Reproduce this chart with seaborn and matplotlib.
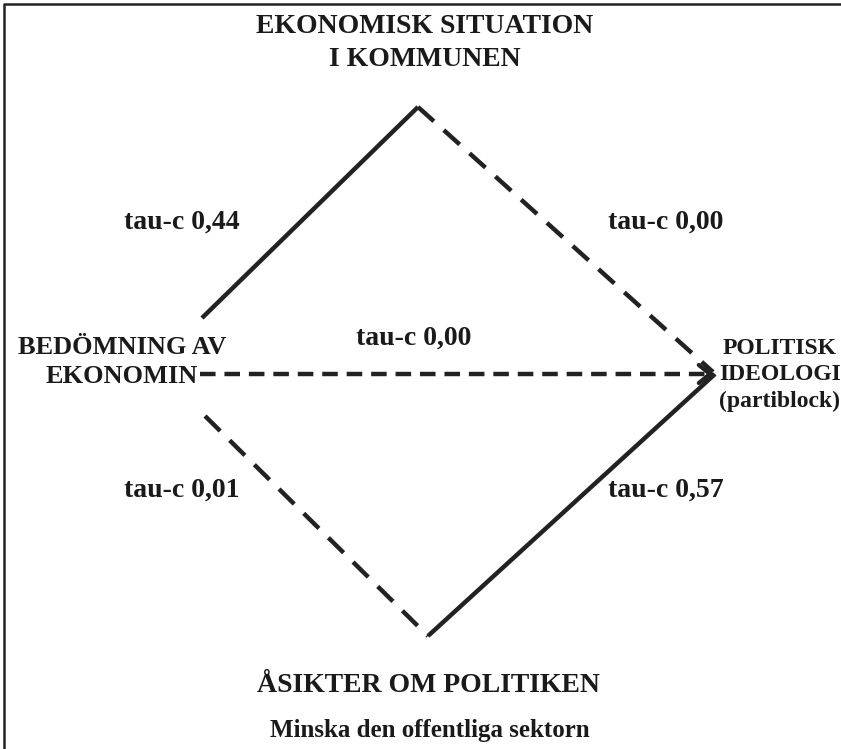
import matplotlib
matplotlib.use('Agg')
import matplotlib.pyplot as plt
import seaborn as sns
import pandas as pd

sns.set_style("white")
plt.rcParams['font.family'] = ['Liberation Serif', 'DejaVu Serif']

# Nodes of the diagram (label, x, y in pixel space, font size)
node_labels = ['EKONOMISK SITUATION\nI KOMMUNEN', 'BEDÖMNING AV\nEKONOMIN',
               'POLITISK\nIDEOLOGI\n(partiblock)', 'ÅSIKTER OM POLITIKEN']
node_x = [425, 122, 780, 428]
node_y = [43, 362, 375, 685]
node_size = [20, 19, 17, 20]
node_spacing = [1.45, 1.3, 1.35, 1.3]

# Edges: start/end points, line type and the tau-c label
edge_x0 = [202, 418, 200, 715, 205]
edge_y0 = [318, 107, 374, 374, 416]
edge_x1 = [418, 713, 709, 428, 428]
edge_y1 = [107, 372, 374, 636, 636]
edge_kind = ['solid', 'diag', 'horiz', 'solid', 'diag']
tau_labels = ['tau-c 0,44', 'tau-c 0,00', 'tau-c 0,00', 'tau-c 0,57', 'tau-c 0,01']
tau_x = [182, 666, 414, 666, 182]
tau_y = [222, 222, 338, 490, 490]

footer = 'Minska den offentliga sektorn'

fig = plt.figure(figsize=(8.41, 7.49), dpi=100)
ax = fig.add_axes([0, 0, 1, 1])
ax.set_xlim(0, 841)
ax.set_ylim(749, 0)
ax.axis('off')

# frame (cropped at right and bottom)
ax.plot([4, 4, 850], [760, 4, 4], color='#222222', lw=1.8, solid_capstyle='butt')

rows = []
for i in range(len(edge_kind)):
    rows.append({'edge': i, 'x': edge_x0[i], 'y': edge_y0[i], 'kind': edge_kind[i]})
    rows.append({'edge': i, 'x': edge_x1[i], 'y': edge_y1[i], 'kind': edge_kind[i]})
df = pd.DataFrame(rows)

dash_map = {'solid': '', 'diag': (4.8, 3.0), 'horiz': (3.5, 2.0)}
for i, sub in df.groupby('edge'):
    kind = sub['kind'].iloc[0]
    sns.lineplot(data=sub, x='x', y='y', ax=ax, color='#222222', lw=3.2,
                 sort=False, estimator=None, legend=False)
    line = ax.lines[-1]
    if dash_map[kind]:
        line.set_dashes(dash_map[kind])
    line.set_solid_capstyle('butt')
    line.set_dash_capstyle('butt')

# chevron at the end of the horizontal edge
ax.annotate('', xy=(edge_x1[2] + 7, edge_y1[2]), xytext=(edge_x1[2] - 2, edge_y1[2]),
            arrowprops=dict(arrowstyle='->,head_length=0.8,head_width=0.65',
                            color='#222222', lw=3.0))

for lab, x, y, s, ls in zip(node_labels, node_x, node_y, node_size, node_spacing):
    ax.text(x, y, lab, ha='center', va='center', fontsize=s, fontweight='bold',
            linespacing=ls, color='#1a1a1a')

for lab, x, y in zip(tau_labels, tau_x, tau_y):
    ax.text(x, y, lab, ha='center', va='center', fontsize=20, fontweight='bold',
            color='#1a1a1a')

ax.text(430, 730, footer, ha='center', va='center', fontsize=18, fontweight='bold',
        color='#1a1a1a')

fig.savefig('out.png', dpi=100)
